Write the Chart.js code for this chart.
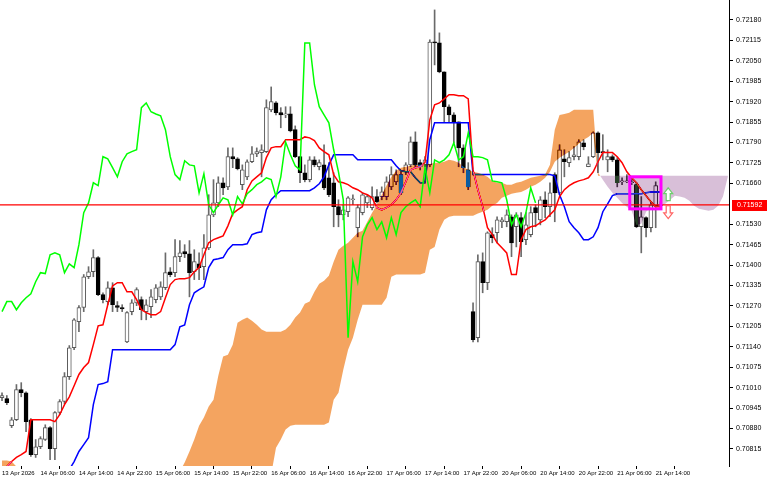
<!DOCTYPE html>
<html>
<head>
<meta charset="utf-8">
<title>H1 Ichimoku</title>
<script src="https://cdn.jsdelivr.net/npm/chart.js@4.4.1/dist/chart.umd.min.js"></script>
<style>
  html, body { margin: 0; padding: 0; background: #fff; }
  #wrap { width: 768px; height: 480px; }
</style>
</head>
<body>
<div id="wrap"><canvas id="chart" width="768" height="480"></canvas></div>
<script>
// bar index 0 = 13 Apr 22:00, one bar per hour (weekend skipped)
const xTickIdx = [0, 8, 16, 24, 32, 40, 48, 56, 64, 72, 80, 88, 96, 104, 112, 120, 128, 136];
const xTickLabels = ["13 Apr 2026", "14 Apr 06:00", "14 Apr 14:00", "14 Apr 22:00", "15 Apr 06:00",
    "15 Apr 14:00", "15 Apr 22:00", "16 Apr 06:00", "16 Apr 14:00", "16 Apr 22:00", "17 Apr 06:00",
    "17 Apr 14:00", "17 Apr 22:00", "20 Apr 06:00", "20 Apr 14:00", "20 Apr 22:00", "21 Apr 06:00", "21 Apr 14:00"];
const yTicks = [0.72180, 0.72115, 0.72050, 0.71985, 0.71920, 0.71855, 0.71790, 0.71725, 0.71660,
    0.71530, 0.71465, 0.71400, 0.71335, 0.71270, 0.71205, 0.71140, 0.71075, 0.71010, 0.70945, 0.70880, 0.70815];

const opens = [0.70978, 0.70975, 0.70889, 0.70908, 0.71004, 0.70994, 0.70908, 0.70797, 0.70822, 0.70845,
    0.70883, 0.70816, 0.70931, 0.70966, 0.71045, 0.71137, 0.71220, 0.71265, 0.71363, 0.71379,
    0.71424, 0.71306, 0.71284, 0.71328, 0.71271, 0.71265, 0.71156, 0.71252, 0.71280, 0.71290,
    0.71252, 0.71268, 0.71290, 0.71299, 0.71328, 0.71379, 0.71376, 0.71427, 0.71443, 0.71436,
    0.71379, 0.71404, 0.71395, 0.71455, 0.71560, 0.71598, 0.71662, 0.71649, 0.71745, 0.71738,
    0.71656, 0.71681, 0.71729, 0.71754, 0.71758, 0.71761, 0.71894, 0.71916, 0.71885, 0.71878,
    0.71881, 0.71831, 0.71745, 0.71694, 0.71672, 0.71735, 0.71713, 0.71719, 0.71678, 0.71662,
    0.71586, 0.71560, 0.71570, 0.71608, 0.71519, 0.71567, 0.71598, 0.71583, 0.71618, 0.71618,
    0.71618, 0.71649, 0.71665, 0.71688, 0.71697, 0.71719, 0.71792, 0.71726, 0.71719, 0.71719,
    0.72110, 0.72107, 0.72015, 0.71904, 0.71878, 0.71856, 0.71773, 0.71703, 0.71252, 0.71169,
    0.71411, 0.71344, 0.71497, 0.71503, 0.71538, 0.71538, 0.71554, 0.71522, 0.71551, 0.71481,
    0.71497, 0.71583, 0.71544, 0.71608, 0.71586, 0.71688, 0.71630, 0.71738, 0.71726, 0.71745,
    0.71745, 0.71789, 0.71713, 0.71745, 0.71821, 0.71761, 0.71735, 0.71745, 0.71735, 0.71665,
    0.71665, 0.71662, 0.71656, 0.71522, 0.71551, 0.71519, 0.71589, 0.71589];
const highs = [0.70994, 0.70985, 0.70915, 0.71020, 0.71026, 0.70997, 0.70912, 0.70845, 0.70854, 0.70892,
    0.70886, 0.70934, 0.70972, 0.71058, 0.71144, 0.71230, 0.71271, 0.71370, 0.71395, 0.71449,
    0.71427, 0.71312, 0.71347, 0.71344, 0.71284, 0.71274, 0.71252, 0.71290, 0.71328, 0.71299,
    0.71290, 0.71322, 0.71338, 0.71347, 0.71439, 0.71392, 0.71481, 0.71478, 0.71465, 0.71478,
    0.71449, 0.71439, 0.71497, 0.71624, 0.71672, 0.71681, 0.71678, 0.71773, 0.71773, 0.71742,
    0.71719, 0.71735, 0.71777, 0.71773, 0.71783, 0.71926, 0.71967, 0.71920, 0.71901, 0.71904,
    0.71904, 0.71843, 0.71745, 0.71719, 0.71745, 0.71745, 0.71735, 0.71783, 0.71726, 0.71694,
    0.71608, 0.71592, 0.71618, 0.71624, 0.71592, 0.71630, 0.71624, 0.71649, 0.71640, 0.71649,
    0.71681, 0.71713, 0.71703, 0.71697, 0.71726, 0.71808, 0.71824, 0.71735, 0.71745, 0.72117,
    0.72212, 0.72139, 0.72015, 0.71910, 0.71885, 0.71856, 0.71783, 0.71726, 0.71280, 0.71433,
    0.71439, 0.71506, 0.71519, 0.71554, 0.71551, 0.71576, 0.71560, 0.71567, 0.71567, 0.71567,
    0.71586, 0.71592, 0.71618, 0.71633, 0.71662, 0.71694, 0.71783, 0.71767, 0.71761, 0.71777,
    0.71799, 0.71799, 0.71745, 0.71824, 0.71824, 0.71815, 0.71767, 0.71751, 0.71742, 0.71678,
    0.71688, 0.71672, 0.71662, 0.71618, 0.71554, 0.71602, 0.71665, 0.71602];
const lows = [0.70969, 0.70956, 0.70883, 0.70905, 0.70981, 0.70870, 0.70791, 0.70788, 0.70816, 0.70842,
    0.70781, 0.70781, 0.70924, 0.70959, 0.71036, 0.71131, 0.71188, 0.71252, 0.71357, 0.71363,
    0.71303, 0.71280, 0.71274, 0.71252, 0.71252, 0.71252, 0.71153, 0.71242, 0.71271, 0.71226,
    0.71226, 0.71233, 0.71280, 0.71290, 0.71322, 0.71363, 0.71363, 0.71411, 0.71424, 0.71299,
    0.71354, 0.71354, 0.71354, 0.71449, 0.71554, 0.71586, 0.71624, 0.71640, 0.71710, 0.71703,
    0.71640, 0.71672, 0.71726, 0.71745, 0.71681, 0.71758, 0.71888, 0.71878, 0.71837, 0.71869,
    0.71824, 0.71742, 0.71662, 0.71665, 0.71665, 0.71713, 0.71703, 0.71640, 0.71618, 0.71522,
    0.71522, 0.71544, 0.71554, 0.71592, 0.71490, 0.71560, 0.71583, 0.71576, 0.71598, 0.71608,
    0.71608, 0.71640, 0.71656, 0.71624, 0.71688, 0.71713, 0.71713, 0.71703, 0.71713, 0.71713,
    0.72037, 0.72012, 0.71856, 0.71856, 0.71789, 0.71713, 0.71694, 0.71640, 0.71156, 0.71156,
    0.71312, 0.71322, 0.71471, 0.71471, 0.71519, 0.71522, 0.71427, 0.71458, 0.71427, 0.71465,
    0.71490, 0.71522, 0.71528, 0.71551, 0.71554, 0.71538, 0.71624, 0.71681, 0.71713, 0.71735,
    0.71735, 0.71767, 0.71713, 0.71742, 0.71694, 0.71735, 0.71697, 0.71729, 0.71649, 0.71656,
    0.71662, 0.71656, 0.71519, 0.71439, 0.71490, 0.71506, 0.71519, 0.71583];
const closes = [0.70985, 0.70962, 0.70908, 0.71004, 0.70994, 0.70902, 0.70797, 0.70822, 0.70848, 0.70883,
    0.70816, 0.70931, 0.70966, 0.71045, 0.71137, 0.71226, 0.71265, 0.71363, 0.71379, 0.71424,
    0.71306, 0.71290, 0.71328, 0.71274, 0.71265, 0.71261, 0.71249, 0.71280, 0.71322, 0.71258,
    0.71274, 0.71299, 0.71328, 0.71331, 0.71376, 0.71370, 0.71427, 0.71439, 0.71436, 0.71376,
    0.71411, 0.71392, 0.71455, 0.71560, 0.71598, 0.71662, 0.71646, 0.71745, 0.71738, 0.71707,
    0.71703, 0.71729, 0.71754, 0.71761, 0.71767, 0.71901, 0.71920, 0.71885, 0.71878, 0.71881,
    0.71827, 0.71745, 0.71694, 0.71672, 0.71735, 0.71719, 0.71726, 0.71646, 0.71624, 0.71586,
    0.71560, 0.71576, 0.71614, 0.71611, 0.71583, 0.71624, 0.71618, 0.71618, 0.71602, 0.71633,
    0.71665, 0.71688, 0.71688, 0.71630, 0.71719, 0.71792, 0.71719, 0.71713, 0.71735, 0.72110,
    0.72107, 0.72015, 0.71904, 0.71878, 0.71856, 0.71773, 0.71710, 0.71649, 0.71163, 0.71411,
    0.71344, 0.71503, 0.71487, 0.71544, 0.71544, 0.71560, 0.71471, 0.71560, 0.71474, 0.71528,
    0.71567, 0.71567, 0.71608, 0.71586, 0.71630, 0.71630, 0.71767, 0.71729, 0.71742, 0.71751,
    0.71792, 0.71777, 0.71722, 0.71821, 0.71758, 0.71758, 0.71745, 0.71735, 0.71662, 0.71668,
    0.71668, 0.71665, 0.71522, 0.71554, 0.71519, 0.71592, 0.71653, 0.71592];

// Tenkan-sen (red) and Kijun-sen (blue), one value per bar
const tenkan = [0.70756, 0.70759, 0.70775, 0.70788, 0.70797, 0.70807, 0.70908, 0.70908, 0.70908, 0.70908,
    0.70908, 0.70902, 0.70924, 0.70956, 0.70981, 0.71016, 0.71052, 0.71074, 0.71090, 0.71147,
    0.71207, 0.71210, 0.71274, 0.71334, 0.71344, 0.71344, 0.71315, 0.71315, 0.71290, 0.71258,
    0.71249, 0.71242, 0.71242, 0.71252, 0.71296, 0.71338, 0.71354, 0.71357, 0.71357, 0.71360,
    0.71379, 0.71392, 0.71433, 0.71471, 0.71481, 0.71487, 0.71493, 0.71525, 0.71564, 0.71576,
    0.71586, 0.71640, 0.71668, 0.71681, 0.71694, 0.71742, 0.71773, 0.71777, 0.71777, 0.71799,
    0.71799, 0.71799, 0.71799, 0.71808, 0.71805, 0.71796, 0.71773, 0.71761, 0.71751, 0.71688,
    0.71665, 0.71662, 0.71656, 0.71646, 0.71640, 0.71630, 0.71624, 0.71614, 0.71583, 0.71576,
    0.71583, 0.71592, 0.71608, 0.71630, 0.71665, 0.71703, 0.71710, 0.71713, 0.71726, 0.71862,
    0.71910, 0.71916, 0.71929, 0.71942, 0.71942, 0.71939, 0.71939, 0.71929, 0.71703, 0.71640,
    0.71586, 0.71519, 0.71497, 0.71471, 0.71455, 0.71439, 0.71370, 0.71370, 0.71481, 0.71513,
    0.71522, 0.71525, 0.71535, 0.71544, 0.71560, 0.71576, 0.71618, 0.71640, 0.71653, 0.71662,
    0.71668, 0.71672, 0.71678, 0.71697, 0.71729, 0.71758, 0.71758, 0.71758, 0.71745, 0.71726,
    0.71697, 0.71678, 0.71662, 0.71640, 0.71621, 0.71602, 0.71586, 0.71586];
const kijun = [0.70718, 0.70718, 0.70718, 0.70718, 0.70718, 0.70718, 0.70718, 0.70718, 0.70718, 0.70718,
    0.70734, 0.70734, 0.70734, 0.70734, 0.70749, 0.70775, 0.70807, 0.70829, 0.70851, 0.70956,
    0.71020, 0.71023, 0.71029, 0.71131, 0.71131, 0.71131, 0.71131, 0.71131, 0.71131, 0.71131,
    0.71131, 0.71131, 0.71131, 0.71131, 0.71131, 0.71131, 0.71147, 0.71204, 0.71210, 0.71274,
    0.71312, 0.71322, 0.71331, 0.71392, 0.71417, 0.71420, 0.71424, 0.71449, 0.71465, 0.71465,
    0.71465, 0.71468, 0.71497, 0.71503, 0.71506, 0.71576, 0.71608, 0.71624, 0.71637, 0.71637,
    0.71637, 0.71637, 0.71637, 0.71637, 0.71637, 0.71646, 0.71659, 0.71681, 0.71719, 0.71751,
    0.71751, 0.71751, 0.71751, 0.71751, 0.71735, 0.71735, 0.71735, 0.71735, 0.71735, 0.71735,
    0.71735, 0.71735, 0.71716, 0.71700, 0.71697, 0.71697, 0.71678, 0.71662, 0.71662, 0.71799,
    0.71853, 0.71853, 0.71853, 0.71853, 0.71853, 0.71853, 0.71853, 0.71853, 0.71688, 0.71688,
    0.71688, 0.71688, 0.71688, 0.71688, 0.71688, 0.71688, 0.71688, 0.71688, 0.71688, 0.71688,
    0.71688, 0.71688, 0.71688, 0.71688, 0.71688, 0.71684, 0.71624, 0.71586, 0.71538, 0.71519,
    0.71503, 0.71481, 0.71481, 0.71490, 0.71519, 0.71570, 0.71595, 0.71621, 0.71627, 0.71627,
    0.71627, 0.71627, 0.71627, 0.71627, 0.71630, 0.71633, 0.71633, 0.71633];
// Chikou span (green), plotted 26 bars back
const chikou = [0.71252, 0.71284, 0.71284, 0.71258, 0.71280, 0.71296, 0.71309, 0.71347, 0.71376, 0.71373,
    0.71433, 0.71439, 0.71433, 0.71376, 0.71404, 0.71392, 0.71465, 0.71567, 0.71598, 0.71662,
    0.71653, 0.71745, 0.71738, 0.71710, 0.71681, 0.71729, 0.71754, 0.71761, 0.71767, 0.71901,
    0.71916, 0.71888, 0.71881, 0.71875, 0.71831, 0.71745, 0.71688, 0.71672, 0.71732, 0.71719,
    0.71716, 0.71630, 0.71691, 0.71592, 0.71567, 0.71592, 0.71614, 0.71608, 0.71560, 0.71618,
    0.71595, 0.71627, 0.71640, 0.71656, 0.71665, 0.71678, 0.71672, 0.71618, 0.71681, 0.71792,
    0.71751, 0.71716, 0.71703, 0.72107, 0.72107, 0.71974, 0.71904, 0.71878, 0.71853, 0.71767,
    0.71697, 0.71608, 0.71169, 0.71411, 0.71347, 0.71490, 0.71528, 0.71551, 0.71513, 0.71538,
    0.71487, 0.71551, 0.71497, 0.71567, 0.71586, 0.71598, 0.71608, 0.71586, 0.71710, 0.71630,
    0.71735, 0.71726, 0.71735, 0.71751, 0.71789, 0.71735, 0.71745, 0.71821, 0.71745, 0.71745,
    0.71742, 0.71735, 0.71668, 0.71665, 0.71662, 0.71608, 0.71528, 0.71560, 0.71522, 0.71567,
    0.71646, 0.71598];
// Senkou spans A and B, plotted 26 bars ahead (the cloud)
const spanA = [0.70778, 0.70778, 0.70775, 0.70759, 0.70724, 0.70724, 0.70724, 0.70724, 0.70724, 0.70724,
    0.70724, 0.70724, 0.70724, 0.70724, 0.70724, 0.70724, 0.70724, 0.70724, 0.70724, 0.70724,
    0.70724, 0.70724, 0.70724, 0.70724, 0.70724, 0.70724, 0.70724, 0.70724, 0.70724, 0.70724,
    0.70724, 0.70724, 0.70724, 0.70724, 0.70724, 0.70724, 0.70724, 0.70743, 0.70772, 0.70807,
    0.70845, 0.70889, 0.70915, 0.70950, 0.70972, 0.71048, 0.71109, 0.71115, 0.71147, 0.71217,
    0.71226, 0.71233, 0.71223, 0.71210, 0.71195, 0.71188, 0.71188, 0.71188, 0.71188, 0.71195,
    0.71210, 0.71233, 0.71249, 0.71277, 0.71284, 0.71315, 0.71341, 0.71350, 0.71366, 0.71411,
    0.71449, 0.71462, 0.71471, 0.71487, 0.71503, 0.71509, 0.71538, 0.71567, 0.71592, 0.71624,
    0.71653, 0.71681, 0.71700, 0.71710, 0.71713, 0.71716, 0.71719, 0.71719, 0.71722, 0.71722,
    0.71726, 0.71726, 0.71729, 0.71735, 0.71732, 0.71726, 0.71713, 0.71703, 0.71697, 0.71694,
    0.71688, 0.71681, 0.71668, 0.71662, 0.71662, 0.71656, 0.71656, 0.71662, 0.71665, 0.71672,
    0.71678, 0.71681, 0.71684, 0.71688, 0.71719, 0.71831, 0.71878, 0.71881, 0.71885, 0.71894,
    0.71894, 0.71894, 0.71894, 0.71894, 0.71694, 0.71672, 0.71649, 0.71630, 0.71614, 0.71598,
    0.71586, 0.71573, 0.71528, 0.71532, 0.71570, 0.71583, 0.71586, 0.71586, 0.71595, 0.71608,
    0.71621, 0.71618, 0.71614, 0.71605, 0.71589, 0.71579, 0.71576, 0.71573, 0.71576, 0.71589,
    0.71618, 0.71681];
const spanB = [0.70686, 0.70686, 0.70686, 0.70686, 0.70686, 0.70686, 0.70686, 0.70686, 0.70686, 0.70686,
    0.70686, 0.70686, 0.70686, 0.70686, 0.70686, 0.70686, 0.70686, 0.70686, 0.70686, 0.70686,
    0.70686, 0.70686, 0.70686, 0.70686, 0.70686, 0.70686, 0.70686, 0.70686, 0.70686, 0.70686,
    0.70686, 0.70686, 0.70686, 0.70686, 0.70686, 0.70686, 0.70686, 0.70686, 0.70686, 0.70686,
    0.70686, 0.70686, 0.70686, 0.70686, 0.70686, 0.70686, 0.70686, 0.70686, 0.70686, 0.70686,
    0.70686, 0.70686, 0.70686, 0.70686, 0.70686, 0.70686, 0.70734, 0.70819, 0.70845, 0.70877,
    0.70889, 0.70892, 0.70892, 0.70892, 0.70892, 0.70892, 0.70892, 0.70892, 0.70899, 0.70972,
    0.70994, 0.71067, 0.71131, 0.71169, 0.71226, 0.71274, 0.71274, 0.71274, 0.71274, 0.71274,
    0.71296, 0.71363, 0.71370, 0.71370, 0.71370, 0.71370, 0.71370, 0.71370, 0.71376, 0.71449,
    0.71458, 0.71513, 0.71544, 0.71554, 0.71557, 0.71557, 0.71557, 0.71557, 0.71557, 0.71564,
    0.71570, 0.71576, 0.71589, 0.71598, 0.71614, 0.71621, 0.71627, 0.71630, 0.71633, 0.71640,
    0.71649, 0.71656, 0.71665, 0.71678, 0.71697, 0.71729, 0.71742, 0.71751, 0.71761, 0.71773,
    0.71786, 0.71799, 0.71808, 0.71821, 0.71684, 0.71684, 0.71684, 0.71684, 0.71684, 0.71684,
    0.71684, 0.71684, 0.71684, 0.71684, 0.71684, 0.71684, 0.71684, 0.71684, 0.71684, 0.71684,
    0.71684, 0.71684, 0.71684, 0.71684, 0.71684, 0.71684, 0.71684, 0.71684, 0.71684, 0.71684,
    0.71684, 0.71684];

const bidPrice = 0.71592;
// drawn objects on the last bars
const boxBars = [130.6, 137.1];
const boxPrices = [0.71681, 0.71579];
const arrowBar = 138.6;
const upArrow = [0.71646, 0.71605];
const downArrow = [0.71589, 0.71548];

const FONT = "'Liberation Sans', Arial, sans-serif";

// the kumo is painted in "difference" mode, like the terminal's XOR fill:
// white turns sandy brown / thistle, black bodies turn steel blue
const kumoPlugin = {
    id: "kumo",
    beforeDraw(chart) {
        const ctx = chart.ctx;
        ctx.save();
        ctx.fillStyle = "#fff";
        ctx.fillRect(0, 0, chart.width, chart.height);
        ctx.restore();
    },
    beforeDatasetDraw(chart, args) {
        if (args.index !== 0) return;
        const { ctx, chartArea, scales } = chart;
        const pts = spanA.map((a, i) => ({
            x: scales.x.getPixelForValue(i),
            a: scales.y.getPixelForValue(a),
            b: scales.y.getPixelForValue(spanB[i]),
            up: a >= spanB[i]
        }));
        const runs = [];
        let cur = { up: pts[0].up, pts: [pts[0]] };
        for (let i = 1; i < pts.length; i++) {
            const p = pts[i], q = pts[i - 1];
            if (p.up !== cur.up) {
                const d0 = q.a - q.b, d1 = p.a - p.b;
                const t = d0 / (d0 - d1);
                const cy = q.a + (p.a - q.a) * t;
                const c = { x: q.x + (p.x - q.x) * t, a: cy, b: cy };
                cur.pts.push(c);
                runs.push(cur);
                cur = { up: p.up, pts: [c, p] };
            } else {
                cur.pts.push(p);
            }
        }
        runs.push(cur);

        ctx.save();
        ctx.beginPath();
        ctx.rect(chartArea.left, chartArea.top, chartArea.width, chartArea.height);
        ctx.clip();
        ctx.globalCompositeOperation = "difference";
        runs.forEach(r => {
            ctx.beginPath();
            r.pts.forEach((p, k) => k ? ctx.lineTo(p.x, p.a) : ctx.moveTo(p.x, p.a));
            for (let k = r.pts.length - 1; k >= 0; k--) ctx.lineTo(r.pts[k].x, r.pts[k].b);
            ctx.closePath();
            ctx.fillStyle = r.up ? "rgb(11,91,159)" : "rgb(39,64,39)";
            ctx.fill();
        });
        ctx.restore();
    }
};

const overlayPlugin = {
    id: "overlay",
    afterDraw(chart) {
        const { ctx, chartArea, scales: { x, y } } = chart;
        ctx.save();
        ctx.globalCompositeOperation = "source-over";
        ctx.globalAlpha = 1;
        ctx.setLineDash([]);

        // bid line
        const by = y.getPixelForValue(bidPrice);
        ctx.strokeStyle = "#ff0000";
        ctx.lineWidth = 1.2;
        ctx.beginPath();
        ctx.moveTo(chartArea.left, by);
        ctx.lineTo(chartArea.right, by);
        ctx.stroke();

        // rectangle
        const x0 = x.getPixelForValue(boxBars[0]), x1 = x.getPixelForValue(boxBars[1]);
        const y0 = y.getPixelForValue(boxPrices[0]), y1 = y.getPixelForValue(boxPrices[1]);
        ctx.strokeStyle = "#ff00ff";
        ctx.lineWidth = 3;
        ctx.strokeRect(x0, y0, x1 - x0, y1 - y0);

        // arrows
        const ax = x.getPixelForValue(arrowBar);
        const drawArrow = (top, bottom, up, color) => {
            const t = y.getPixelForValue(top), b = y.getPixelForValue(bottom);
            const h = b - t, head = h * 0.45, hw = 4.5, sw = 2;
            ctx.beginPath();
            if (up) {
                ctx.moveTo(ax, t);
                ctx.lineTo(ax + hw, t + head);
                ctx.lineTo(ax + sw, t + head);
                ctx.lineTo(ax + sw, b);
                ctx.lineTo(ax - sw, b);
                ctx.lineTo(ax - sw, t + head);
                ctx.lineTo(ax - hw, t + head);
            } else {
                ctx.moveTo(ax, b);
                ctx.lineTo(ax + hw, b - head);
                ctx.lineTo(ax + sw, b - head);
                ctx.lineTo(ax + sw, t);
                ctx.lineTo(ax - sw, t);
                ctx.lineTo(ax - sw, b - head);
                ctx.lineTo(ax - hw, b - head);
            }
            ctx.closePath();
            ctx.fillStyle = "#fff";
            ctx.fill();
            ctx.strokeStyle = color;
            ctx.lineWidth = 1.2;
            ctx.stroke();
        };
        drawArrow(upArrow[0], upArrow[1], true, "#6ccf6c");
        drawArrow(downArrow[0], downArrow[1], false, "#ff6464");

        // bid price label on the axis
        const ly = Math.round(by);
        ctx.fillStyle = "#ff0000";
        ctx.fillRect(chartArea.right + 3, ly - 5, chart.width - chartArea.right - 4, 11);
        ctx.fillStyle = "#fff";
        ctx.font = "7px " + FONT;
        ctx.textBaseline = "middle";
        ctx.fillText(bidPrice.toFixed(5), chartArea.right + 8, ly + 0.5);
        ctx.restore();
    }
};

const isBull = i => closes[i] >= opens[i];

const bodies = opens.map((o, i) => ({ x: i, y: [Math.min(o, closes[i]), Math.max(o, closes[i])] }));
const wicks = highs.map((h, i) => ({ x: i, y: [lows[i], h] }));
const asPoints = arr => arr.map((v, i) => ({ x: i, y: v }));

new Chart(document.getElementById("chart"), {
    type: "bar",
    data: {
        datasets: [
            { type: "line", label: "Chikou", data: asPoints(chikou), borderColor: "#00ff00",
              borderWidth: 1.5, pointRadius: 0, tension: 0, fill: false },
            { type: "line", label: "Tenkan", data: asPoints(tenkan), borderColor: "#ff0000",
              borderWidth: 1.5, pointRadius: 0, tension: 0, fill: false },
            { type: "line", label: "Kijun", data: asPoints(kijun), borderColor: "#0000ff",
              borderWidth: 1.5, pointRadius: 0, tension: 0, fill: false },
            { label: "Body", data: bodies, grouped: false, barThickness: 4, minBarLength: 1,
              borderSkipped: false, borderWidth: 1,
              backgroundColor: c => isBull(c.dataIndex) ? "#ffffff" : "#000000",
              borderColor: c => isBull(c.dataIndex) ? "#5a5a5a" : "#000000" },
            { label: "Wick", data: wicks, grouped: false, barThickness: 1, borderWidth: 0,
              backgroundColor: "#6a6a6a" }
        ]
    },
    options: {
        responsive: false,
        animation: false,
        devicePixelRatio: 1,
        layout: { padding: 0 },
        events: [],
        plugins: { legend: { display: false }, tooltip: { enabled: false } },
        scales: {
            x: {
                type: "linear", min: -0.42, max: 151.25, offset: false,
                grid: { display: true, drawOnChartArea: false, drawTicks: true, tickLength: 3, color: "#000" },
                border: { display: false },
                afterBuildTicks: s => { s.ticks = xTickIdx.map(v => ({ value: v })); },
                afterFit: s => { s.height = 14; s.paddingLeft = 0; s.paddingRight = 0; },
                ticks: {
                    align: "start", autoSkip: false, maxRotation: 0, padding: 1, color: "#000",
                    font: { family: FONT, size: 6 },
                    callback: v => xTickLabels[xTickIdx.indexOf(v)]
                }
            },
            y: {
                type: "linear", position: "right", min: 0.707608, max: 0.722436,
                grid: { display: true, drawOnChartArea: false, drawTicks: true, tickLength: 4, color: "#000" },
                border: { display: true, color: "#000", width: 1 },
                afterBuildTicks: s => { s.ticks = yTicks.map(v => ({ value: v })); },
                afterFit: s => { s.width = 39; s.paddingTop = 0; s.paddingBottom = 0; },
                ticks: {
                    autoSkip: false, padding: 3, color: "#000",
                    font: { family: FONT, size: 7 },
                    callback: v => v.toFixed(5)
                }
            }
        }
    },
    plugins: [kumoPlugin, overlayPlugin]
});
</script>
</body>
</html>
